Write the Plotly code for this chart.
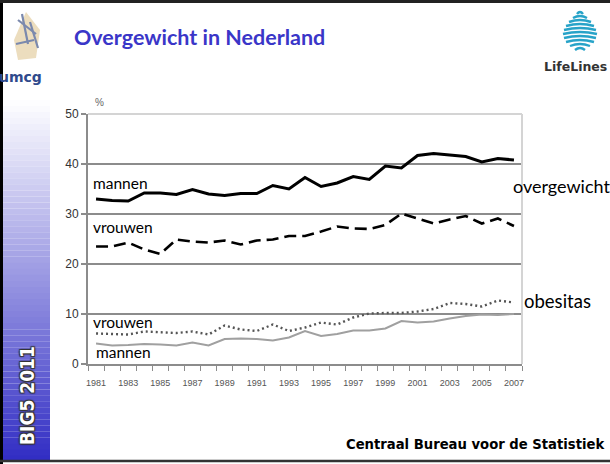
import plotly.graph_objects as go

# ---------------- data ----------------
years = list(range(1981, 2008))
overgewicht_mannen = [33.0, 32.7, 32.6, 34.2, 34.2, 33.9, 34.9, 34.0, 33.7, 34.1, 34.1, 35.7, 35.0,
                      37.3, 35.5, 36.2, 37.5, 36.9, 39.6, 39.2, 41.7, 42.1, 41.8, 41.5, 40.4, 41.1, 40.8]
overgewicht_vrouwen = [23.5, 23.5, 24.3, 22.9, 22.0, 24.9, 24.5, 24.3, 24.7, 23.9, 24.7, 24.9, 25.6,
                       25.6, 26.5, 27.5, 27.1, 27.0, 27.8, 30.1, 29.1, 28.1, 28.9, 29.6, 28.1, 29.1, 27.6]
obesitas_vrouwen = [6.1, 6.0, 5.9, 6.5, 6.4, 6.2, 6.5, 5.9, 7.7, 6.9, 6.6, 7.9, 6.6,
                    7.3, 8.3, 7.9, 9.3, 10.1, 10.2, 10.2, 10.5, 11.0, 12.2, 12.0, 11.5, 12.7, 12.3]
obesitas_mannen = [4.1, 3.7, 3.8, 4.0, 3.9, 3.7, 4.3, 3.7, 5.0, 5.1, 5.0, 4.7, 5.3,
                   6.6, 5.6, 6.0, 6.7, 6.7, 7.1, 8.6, 8.3, 8.5, 9.1, 9.6, 9.9, 9.8, 10.0]
x_tick_labels = [str(y) for y in range(1981, 2008, 2)]
y_tick_values = [0, 10, 20, 30, 40, 50]

title_text = "Overgewicht in Nederland"
source_text = "Centraal Bureau voor de Statistiek"
side_text = "BIG5 2011"

# ---------------- geometry helpers (pixels -> paper) ----------------
W, H = 610, 464
L, R, T, B = 88, 522, 114, 364


def px(x):
    return (x - L) / (R - L)


def py(y):
    return (B - y) / (B - T)


fig = go.Figure()

fig.add_trace(go.Scatter(x=years, y=overgewicht_mannen, mode="lines",
                         line=dict(color="black", width=3), hoverinfo="skip"))
fig.add_trace(go.Scatter(x=years, y=overgewicht_vrouwen, mode="lines",
                         line=dict(color="black", width=2.6, dash="12px,6px"), hoverinfo="skip"))
fig.add_trace(go.Scatter(x=years, y=obesitas_mannen, mode="lines",
                         line=dict(color="#a0a0a0", width=2), hoverinfo="skip"))
fig.add_trace(go.Scatter(x=years, y=obesitas_vrouwen, mode="lines",
                         line=dict(color="#555555", width=2.4, dash="2px,3px"), hoverinfo="skip"))

shapes = []

# left gradient strip
top_c = (255, 255, 255)
bot_c = (48, 44, 196)
y0s, y1s = 100, 462
n = 60
for i in range(n):
    ya = y0s + (y1s - y0s) * i / n
    yb = y0s + (y1s - y0s) * (i + 1) / n
    t = (i + 0.5) / n
    c = tuple(int(round(top_c[k] + (bot_c[k] - top_c[k]) * t)) for k in range(3))
    shapes.append(dict(type="rect", xref="paper", yref="paper", x0=px(3), x1=px(50),
                       y0=py(yb), y1=py(ya) + 0.0005, fillcolor="rgb(%d,%d,%d)" % c,
                       line=dict(width=0), layer="below"))

# slide borders
shapes.append(dict(type="line", xref="paper", yref="paper", x0=px(1.5), x1=px(1.5), y0=py(0), y1=py(464),
                   line=dict(color="black", width=3)))
shapes.append(dict(type="line", xref="paper", yref="paper", x0=px(0), x1=px(610), y0=py(1.5), y1=py(1.5),
                   line=dict(color="#222222", width=3)))
shapes.append(dict(type="line", xref="paper", yref="paper", x0=px(0), x1=px(610), y0=py(461), y1=py(461),
                   line=dict(color="#333333", width=2.5)))

# plot-area light border (top and right)
shapes.append(dict(type="line", xref="paper", yref="paper", x0=0, x1=1, y0=1, y1=1,
                   line=dict(color="#d4d4d4", width=2)))
shapes.append(dict(type="line", xref="paper", yref="paper", x0=1, x1=1, y0=0, y1=1,
                   line=dict(color="#d4d4d4", width=2)))

# UMCG logo approximation (beige figure with blue-grey accents)
shapes.append(dict(type="path", xref="paper", yref="paper",
                   path="M %f,%f L %f,%f L %f,%f L %f,%f L %f,%f Z" % (
                       px(14), py(40), px(26), py(12), px(40), py(30), px(36), py(58), px(18), py(60)),
                   fillcolor="#e6d2a8", line=dict(width=0), opacity=0.75))
for (xa, ya, xb, yb) in [(18, 20, 36, 34), (22, 14, 28, 44), (30, 22, 38, 48), (16, 44, 34, 40)]:
    shapes.append(dict(type="line", xref="paper", yref="paper", x0=px(xa), y0=py(ya), x1=px(xb), y1=py(yb),
                       line=dict(color="#7b89ad", width=2.2)))

# LifeLines logo approximation (stacked teal arcs)
cx = 580
widths = [6, 14, 22, 28, 32, 34, 32, 28, 20, 10]
for i, w in enumerate(widths):
    yy = 12 + i * 4
    shapes.append(dict(type="path", xref="paper", yref="paper",
                       path="M %f,%f Q %f,%f %f,%f" % (px(cx - w / 2), py(yy + 2), px(cx), py(yy - 2),
                                                      px(cx + w / 2), py(yy + 2)),
                       line=dict(color="#27a3c8", width=2.4)))

annotations = []


def ann(text, x, y, size, color="black", family="Lato, Open Sans, sans-serif", xanchor="left",
        bold=False, **kw):
    annotations.append(dict(text=("<b>%s</b>" % text) if bold else text, xref="paper", yref="paper",
                            x=px(x), y=py(y), xanchor=xanchor, yanchor="middle", showarrow=False,
                            font=dict(size=size, color=color, family=family), **kw))


ann(title_text, 72, 37, 21.5, color="#3a36c8", bold=True)
ann("umcg", 44, 77, 14, color="#2f4a8c", family="DejaVu Sans", xanchor="right", bold=True)
ann("LifeLines", 609, 66, 12.5, color="#333333", family="DejaVu Sans", xanchor="right", bold=True)
ann("%", 93, 103, 10, color="#666666", family="Arial, Liberation Sans")

ann("mannen", 91, 183, 15.5)
ann("vrouwen", 91, 227, 15.5)
ann("overgewicht", 511, 186, 18)
ann("vrouwen", 91, 322, 15.5)
ann("mannen", 94, 352, 15.5)
ann("obesitas", 522, 301, 18.5)

ann(source_text, 607, 444, 13.2, family="DejaVu Sans", xanchor="right", bold=True)
annotations.append(dict(text="<b>%s</b>" % side_text, xref="paper", yref="paper", x=px(27), y=py(396),
                        xanchor="center", yanchor="middle", showarrow=False, textangle=-90,
                        font=dict(size=19, color="white", family="DejaVu Sans Condensed, DejaVu Sans",
                                  shadow="1px 1px 1px #333, -1px -1px 1px #333, 1px -1px 1px #333, -1px 1px 1px #333")))

fig.update_layout(
    width=W, height=H,
    margin=dict(l=L, r=W - R, t=T, b=H - B, pad=0),
    paper_bgcolor="white", plot_bgcolor="white",
    showlegend=False,
    shapes=shapes,
    annotations=annotations,
    xaxis=dict(range=[1980.5, 2007.5], tickmode="array", tickvals=list(range(1981, 2008, 2)),
               ticktext=x_tick_labels, ticks="", showgrid=False, zeroline=False,
               showline=True, linecolor="#8c8c8c", linewidth=2,
               tickfont=dict(size=9, color="#555555", family="Liberation Sans Narrow, Arial Narrow, Arial"),
               ticklabelstandoff=9,
               minor=dict(tickmode="array", tickvals=[1980.5 + k for k in range(28)], ticks="outside",
                          ticklen=5, tickwidth=1, tickcolor="#8c8c8c", showgrid=False),
               fixedrange=True),
    yaxis=dict(range=[0, 50], tickmode="array", tickvals=y_tick_values, ticks="outside", ticklen=5,
               tickcolor="#8c8c8c", tickwidth=1.5,
               showgrid=True, gridcolor="#8c8c8c", gridwidth=2, zeroline=False,
               showline=True, linecolor="#8c8c8c", linewidth=2,
               tickfont=dict(size=12, color="#333333", family="Arial, Liberation Sans"),
               fixedrange=True),
)

fig.write_html("out.html", config={"displayModeBar": False},
               post_script="document.body.style.margin='0';document.body.style.overflow='hidden';")
